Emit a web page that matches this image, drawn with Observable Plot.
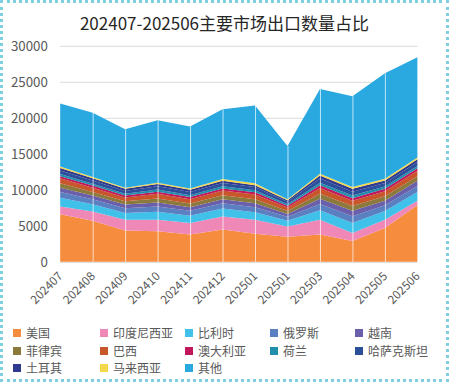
<!DOCTYPE html>
<html><head><meta charset="utf-8">
<script src="https://cdn.jsdelivr.net/npm/d3@7"></script>
<script src="https://cdn.jsdelivr.net/npm/@observablehq/plot@0.6"></script>
<style>
body{margin:0;background:#fff;font-family:"Noto Sans CJK SC","Noto Sans",sans-serif;}
#wrap{position:absolute;left:0;top:0;width:443px;height:376px;border:3px dotted #7fcfe0;background:#fff;overflow:hidden;}
#title{position:absolute;left:0;width:443px;top:7px;text-align:center;font-size:17px;color:#262626;}
#chart{position:absolute;left:-3px;top:27px;}
#legend{position:absolute;left:0;top:322px;width:443px;}
.li{position:absolute;font-size:12px;color:#595959;white-space:nowrap;line-height:15px;height:15px;}
.sw{display:inline-block;width:8px;height:8px;margin-right:5px;vertical-align:1px;}
</style></head>
<body>
<div id="wrap"><div id="title">202407-202506主要市场出口数量占比</div><div id="chart"></div><div id="legend"></div></div>
<script>
const months = ["202407","202408","202409","202410","202411","202412","202501","202501","202503","202504","202505","202506"];
const seriesNames = ["美国","印度尼西亚","比利时","俄罗斯","越南","菲律宾","巴西","澳大利亚","荷兰","哈萨克斯坦","土耳其","马来西亚","其他"];
const colors = ["#f68c3e","#ef88b6","#3fc1ea","#5a80c2","#6a5fab","#8c7a3c","#c9552b","#c2185b","#1f8fab","#2c4f9c","#2f3a8f","#f6d64a","#2aa9e1"];
const usa        = [6600,5700,4350,4250,3800,4500,3900,3500,3800,2900,4700,7900];
const indonesia  = [1100,1300,1500,1600,1600,1800,1950,1400,2050,1100,1150,600];
const belgium    = [1200,1000,950,1100,1000,1100,1050,800,1300,1400,1200,1200];
const russia     = [800,700,650,750,700,750,700,550,900,950,800,850];
const vietnam    = [600,500,500,550,500,550,550,400,700,750,650,700];
const philippines= [600,500,450,550,500,550,550,400,700,650,600,650];
const brazil     = [700,600,550,650,600,650,650,500,800,750,700,750];
const australia  = [300,300,250,300,300,300,300,250,400,350,350,350];
const netherlands= [300,250,250,300,250,300,300,200,350,350,300,300];
const kazakhstan = [500,450,400,450,450,450,450,350,600,550,500,550];
const turkey     = [350,300,300,300,300,300,250,200,400,400,350,400];
const malaysia   = [200,200,150,200,200,250,250,150,250,250,250,250];
const others     = [8750,8900,8100,8650,8600,9700,10800,7400,11750,12600,14650,13900];
const yTicks = [0,5000,10000,15000,20000,25000,30000];

const seriesValues = [usa,indonesia,belgium,russia,vietnam,philippines,brazil,australia,netherlands,kazakhstan,turkey,malaysia,others];
const data = [];
seriesNames.forEach((s,k)=>months.forEach((m,i)=>data.push({i, series:s, value:seriesValues[k][i]})));
const totals = months.map((m,i)=>({i, total: d3.sum(seriesValues, a=>a[i])}));

const chart = Plot.plot({
  width: 452, height: 296,
  marginLeft: 61, marginRight: 29, marginTop: 16, marginBottom: 61,
  style:{fontFamily:'"Noto Sans CJK SC","Noto Sans",sans-serif', fontSize:"12px", color:"#595959", background:"transparent"},
  x:{domain:[0,11], ticks:d3.range(12), tickFormat:i=>months[i], tickRotate:-45, tickSize:0, tickPadding:12, label:null},
  y:{domain:[0,30000], ticks:yTicks, tickSize:0, tickPadding:13, tickFormat:d=>String(d), label:null},
  color:{domain:seriesNames, range:colors},
  marks:[
    Plot.gridY(yTicks,{stroke:"#d9d9d9", strokeOpacity:1}),
    Plot.areaY(data,{x:"i", y:"value", fill:"series", z:"series", order:seriesNames, curve:"linear"}),
    Plot.ruleX(totals.slice(1,11),{x:"i", y1:0, y2:"total", stroke:"#ffffff", strokeWidth:1, strokeOpacity:0.7}),
    Plot.axisY(yTicks,{tickSize:0, tickPadding:13, fontSize:13.5, tickFormat:d=>String(d)})
  ]
});
document.getElementById("chart").appendChild(chart);

const leg = document.getElementById("legend");
const colX = [10,97,182,267,352];
seriesNames.forEach((s,k)=>{
  const d = document.createElement("div");
  d.className="li";
  d.style.left = colX[k%5]+"px";
  d.style.top = (Math.floor(k/5)*17.5)+"px";
  d.innerHTML = `<span class="sw" style="background:${colors[k]}"></span>${s}`;
  leg.appendChild(d);
});
</script>
</body></html>
